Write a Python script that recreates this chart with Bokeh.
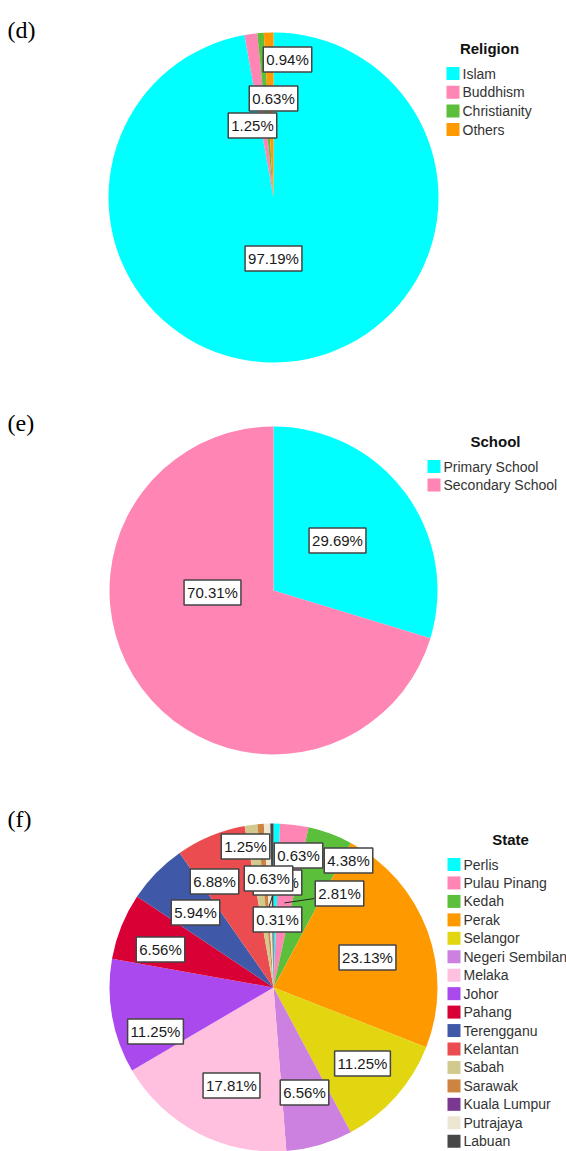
import math
from bokeh.plotting import figure
from bokeh.models import Range1d
from bokeh.embed import file_html
from bokeh.resources import INLINE
from bokeh.core.properties import value

# ---------------- data ----------------
religion = ["Islam", "Buddhism", "Christianity", "Others"]
religion_pct = [97.19, 1.25, 0.63, 0.94]

school = ["Primary School", "Secondary School"]
school_pct = [29.69, 70.31]

states = ["Perlis", "Pulau Pinang", "Kedah", "Perak", "Selangor", "Negeri Sembilan",
          "Melaka", "Johor", "Pahang", "Terengganu", "Kelantan", "Sabah", "Sarawak",
          "Kuala Lumpur", "Putrajaya", "Labuan"]
state_pct = [0.63, 2.81, 4.38, 23.13, 11.25, 6.56, 17.81, 11.25, 6.56, 5.94, 6.88,
             1.25, 0.63, 0.0, 0.63, 0.31]

# ---------------- styles ----------------
palette = ["#00FFFF", "#FF85B4", "#5CBF3B", "#FF9900", "#E2D610", "#CC80E0",
           "#FFC0E0", "#AA4AEE", "#D90036", "#4058A8", "#EB4C50", "#D2C98F",
           "#CC8440", "#7A3890", "#EDE6D2", "#474747"]

W, H = 566, 1151
FONT = "Liberation Sans"


def sy(y):
    return H - y


p = figure(width=W, height=H, output_backend="svg", toolbar_location=None,
           x_range=Range1d(0, W), y_range=Range1d(0, H),
           x_axis_location=None, y_axis_location=None, min_border=0,
           outline_line_color=None, background_fill_color="white")
p.grid.visible = False


def draw_pie(cx, cy, r, names, pct, colors, label_off, leaders, legend_title,
             legend_title_xy, legend_x, legend_y0, legend_dy):
    total = sum(pct)
    cum = 0.0
    mids = []
    for i, v in enumerate(pct):
        a0 = math.pi / 2 - 2 * math.pi * cum / total
        cum += v
        a1 = math.pi / 2 - 2 * math.pi * cum / total
        mids.append((a0 + a1) / 2)
        if v > 0:
            p.wedge(x=[cx], y=[sy(cy)], radius=r, start_angle=a0, end_angle=a1,
                    direction="clock", fill_color=colors[i], line_color=None)
    # leader lines
    for (i, frac, lx, ly) in leaders:
        ax = cx + frac * r * math.cos(mids[i])
        ay = cy - frac * r * math.sin(mids[i])
        p.line(x=[ax, cx + lx], y=[sy(ay), sy(cy + ly)], line_color="#222222", line_width=1)
    # labels
    for i, v in enumerate(pct):
        if v <= 0 or label_off[i] is None:
            continue
        dx, dy = label_off[i]
        p.text(x=[cx + dx], y=[sy(cy + dy)], text=["%.2f%%" % v], text_align="center",
               text_baseline="middle", text_font=value(FONT), text_font_size="15px",
               text_color="#1a1a1a", background_fill_color="white",
               border_line_color="#444444", border_line_width=1.5, padding=(3, 4))
    # legend
    tx, ty = legend_title_xy
    p.text(x=[tx], y=[sy(ty)], text=[legend_title], text_align="center",
           text_baseline="middle", text_font=value(FONT), text_font_size="15px",
           text_font_style="bold", text_color="#111111")
    for i, n in enumerate(names):
        yy = legend_y0 + i * legend_dy
        p.rect(x=[legend_x + 6.5], y=[sy(yy)], width=13, height=13,
               fill_color=colors[i], line_color=None)
        p.text(x=[legend_x + 16], y=[sy(yy)], text=[n], text_align="left",
               text_baseline="middle", text_font=value(FONT), text_font_size="14px",
               text_color="#333333")


def panel_letter(t, x, y):
    p.text(x=[x], y=[sy(y)], text=[t], text_align="left", text_baseline="alphabetic",
           text_font=value("Liberation Serif"), text_font_size="24px", text_color="black")


# (d) religion
panel_letter("(d)", 7, 29)
draw_pie(273, 197, 165, religion, religion_pct, palette[:4],
         [(0, 61), (-21, -72), (0, -99), (14, -138)], [],
         "Religion", (489, 48), 446, 73, 18.7)

# (e) school
panel_letter("(e)", 7, 422)
draw_pie(273, 590, 164, school, school_pct, palette[:2],
         [(64, -50), (-61, 2)], [],
         "School", (495, 441), 427, 466, 18.5)

# (f) state
panel_letter("(f)", 7, 818)
state_labels = [(25, -132), (66, -94), (75, -127), (94, -30), (89, 76), (31, 105),
                (-42, 98), (-118, 44), (-113, -38), (-78, -75), (-59, -106),
                (-28, -141), (4, -105), None, (-5, -109), (4, -68)]
state_leaders = [(1, 0.52, 41, -89), (15, 0.56, -5, -79)]
draw_pie(273, 987, 164, states, state_pct, palette, state_labels, state_leaders,
         "State", (510, 839), 447, 864, 18.45)

open("out.html", "w").write(file_html(p, INLINE))
